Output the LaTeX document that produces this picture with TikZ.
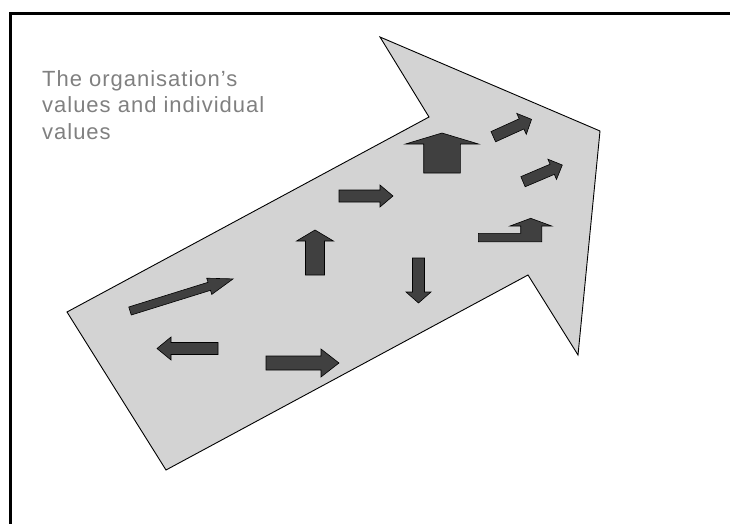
\documentclass[tikz,border=0pt]{standalone}
\usepackage{fontspec}
\setmainfont{Liberation Sans}
\usepackage{tikz}

\definecolor{pathgray}{RGB}{211,211,211}
\definecolor{darkarrow}{RGB}{64,64,64}
\definecolor{labelgray}{RGB}{128,128,128}

\tikzset{
	bigarrow/.style={draw=black, line width=0.9pt, fill=pathgray, line join=miter},
	smallarrow/.style={draw=black, line width=0.6pt, fill=darkarrow, line join=miter},
	frame/.style={draw=black, line width=3pt, line join=miter}
}

% block arrow: tail x, tail y, angle, length, shaft half width, head half width, head length
\newcommand{\blkarrow}[7]{%
	\draw[smallarrow, shift={(#1,#2)}, rotate=#3]
		(0,-#5) -- ({#4-#7},-#5) -- ({#4-#7},-#6) -- (#4,0)
		-- ({#4-#7},#6) -- ({#4-#7},#5) -- (0,#5) -- cycle;}

\begin{document}
\begin{tikzpicture}[x=1pt, y=-1pt]
		\useasboundingbox (0,0) rectangle (730,524);

		% frame
		\draw[frame] (10.5,524) -- (10.5,13.5) -- (730,13.5);

		% big arrow
		\draw[bigarrow] (67,312) -- (429,117) -- (380,37) -- (600,131)
			-- (578,355) -- (528,275) -- (166,470) -- cycle;

		% small arrows
		\blkarrow{130}{311}{17.3}{108}{4.2}{8.5}{25}
		\blkarrow{218}{348.5}{180}{61}{6}{11.5}{14}
		\blkarrow{266}{363}{0}{73}{7}{14}{18}
		\blkarrow{315}{275}{90}{45}{9.5}{18.5}{11}
		\blkarrow{339}{196}{0}{54}{6}{11}{13}
		\blkarrow{442}{173}{90}{40}{18.3}{36.5}{11}
		\blkarrow{418.5}{258}{-90}{45}{6}{12.5}{11}
		\blkarrow{493.3}{136.7}{24.4}{42}{5.6}{11.5}{11}
		\blkarrow{523}{181.7}{23}{42.7}{5.5}{11}{11}

		% bent arrow
		\draw[smallarrow] (478.3,241.7) -- (541.7,241.7) -- (541.7,226) -- (551.7,226)
			-- (530.7,218.3) -- (510,226) -- (520.7,226) -- (520.7,233.3)
			-- (478.3,233.3) -- cycle;

		\node[anchor=north west, align=left, inner sep=0pt, text=labelgray,
			font={\fontsize{22}{26.5}\selectfont\addfontfeature{LetterSpace=4.5}}]
			(values) at (42,70) {The organisation’s\\values and individual\\values};
\end{tikzpicture}
\end{document}
